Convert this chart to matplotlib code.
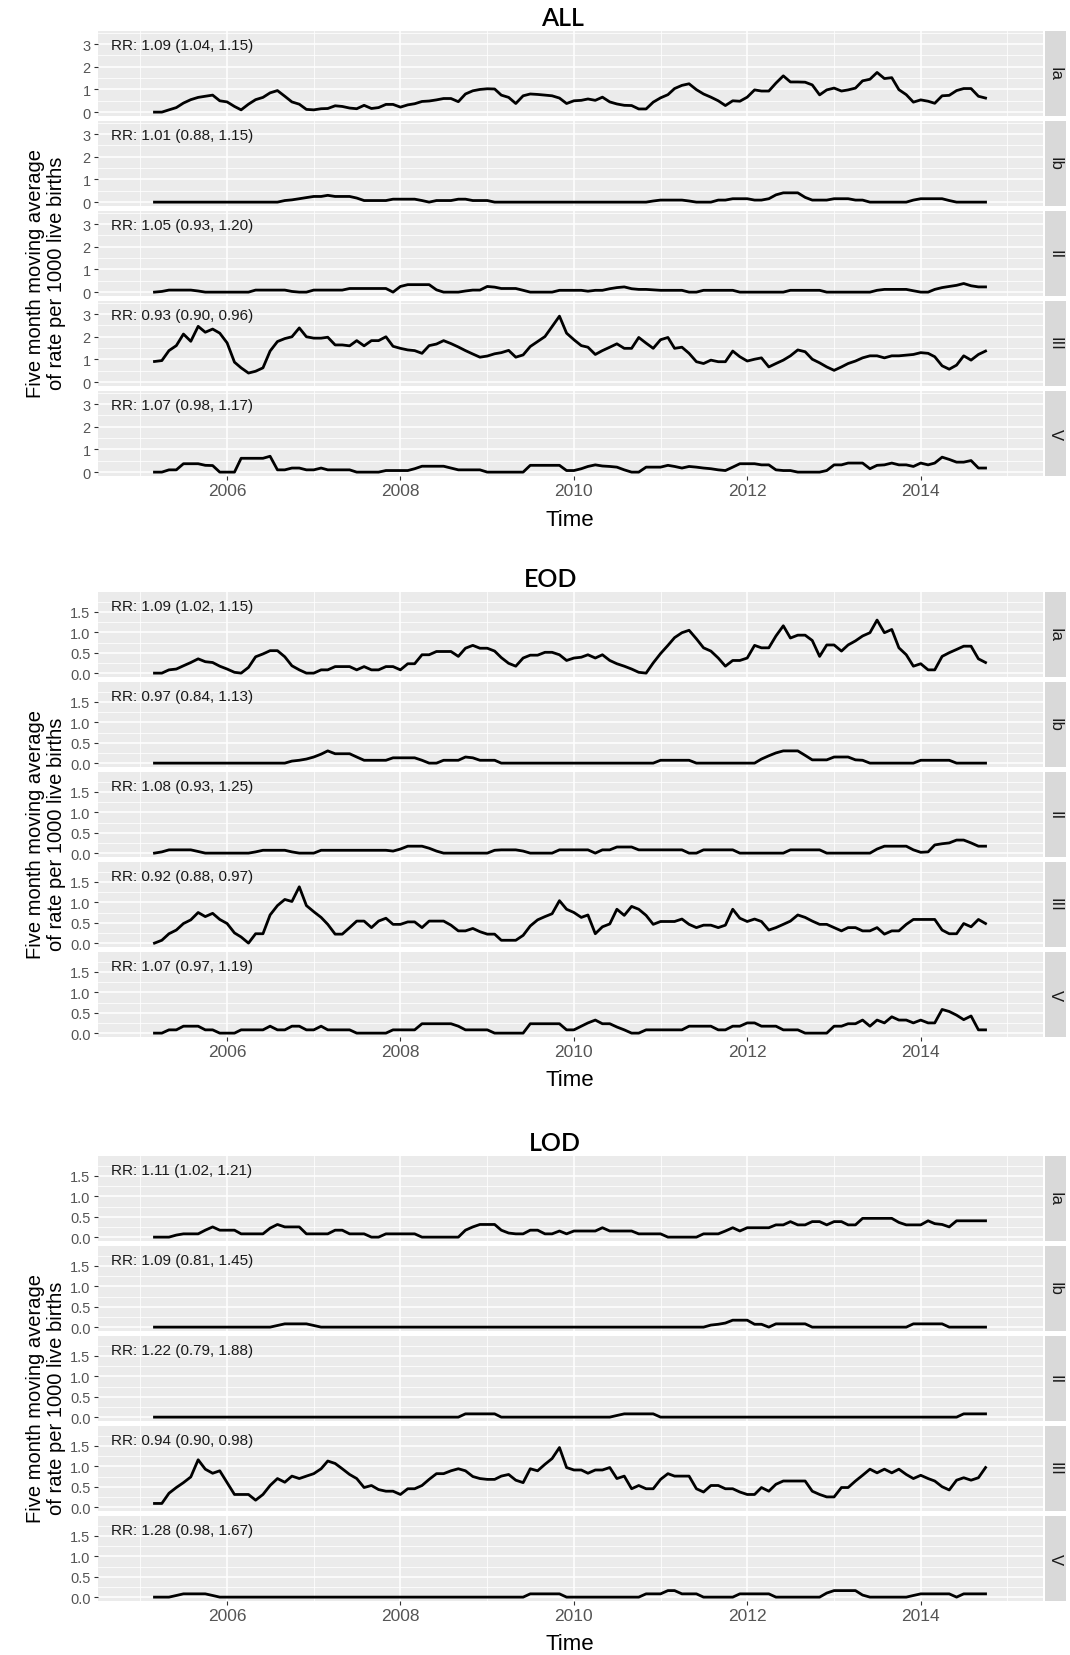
import pandas as pd
import matplotlib
matplotlib.use("Agg")
import matplotlib.pyplot as plt
import matplotlib.dates as mdates
import matplotlib.transforms as mtransforms

# monthly centred 5-month moving averages, Mar 2005 .. Oct 2014
months = pd.date_range("2005-03-01", "2014-10-01", freq="MS")

all_ia = [0.0, 0.0, 0.1, 0.2, 0.4, 0.55, 0.65, 0.7, 0.75, 0.5,
          0.45, 0.25, 0.1, 0.35, 0.55, 0.65, 0.85, 0.95, 0.7, 0.45, 0.35, 0.12,
          0.1, 0.15, 0.16, 0.28, 0.25, 0.18, 0.15, 0.3, 0.16, 0.2, 0.34, 0.34,
          0.22, 0.32, 0.37, 0.47, 0.49, 0.54, 0.6, 0.6, 0.46, 0.8, 0.94, 1.0,
          1.03, 1.02, 0.75, 0.65, 0.38, 0.72, 0.8, 0.78, 0.75, 0.72, 0.62, 0.38,
          0.5, 0.52, 0.58, 0.52, 0.66, 0.45, 0.36, 0.3, 0.29, 0.14, 0.14, 0.44,
          0.63, 0.77, 1.04, 1.18, 1.25, 0.99, 0.8, 0.66, 0.5, 0.29, 0.5, 0.48,
          0.66, 0.98, 0.93, 0.93, 1.28, 1.6, 1.33, 1.33, 1.32, 1.2, 0.76, 0.98,
          1.06, 0.93, 0.98, 1.06, 1.38, 1.45, 1.75, 1.48, 1.52, 0.99, 0.77, 0.44,
          0.54, 0.48, 0.39, 0.72, 0.74, 0.95, 1.04, 1.04, 0.7, 0.62]
all_ib = [0] * 10 + \
         [0] * 8 + [0.07, 0.1, 0.15, 0.2] + \
         [0.25, 0.25, 0.3, 0.25, 0.25, 0.25, 0.18, 0.07, 0.07, 0.07, 0.07, 0.13] + \
         [0.13, 0.13, 0.13, 0.07, 0.0, 0.07, 0.07, 0.07, 0.13, 0.13, 0.07, 0.07] + \
         [0.07] + [0] * 11 + \
         [0] * 11 + [0.05] + \
         [0.09, 0.09, 0.09, 0.09, 0.05, 0, 0, 0, 0.09, 0.09, 0.15, 0.15] + \
         [0.15, 0.09, 0.09, 0.15, 0.32, 0.41, 0.41, 0.41, 0.21, 0.09, 0.09, 0.09] + \
         [0.15, 0.15, 0.15, 0.09, 0.09, 0, 0, 0, 0, 0, 0, 0.09] + \
         [0.15, 0.15, 0.15, 0.15, 0.07, 0, 0, 0, 0, 0]
all_ii = [0, 0.03, 0.09, 0.09, 0.09, 0.09, 0.05, 0, 0, 0,
          0, 0, 0, 0, 0.09, 0.09, 0.09, 0.09, 0.09, 0.03, 0, 0,
          0.09, 0.09, 0.09, 0.09, 0.09, 0.16, 0.16, 0.16, 0.16, 0.16, 0.16, 0.0,
          0.25, 0.33, 0.33, 0.33, 0.33, 0.1, 0, 0, 0, 0.05, 0.09, 0.09,
          0.25, 0.22, 0.16, 0.16, 0.16, 0.08, 0, 0, 0, 0, 0.08, 0.08,
          0.08, 0.08, 0.04, 0.08, 0.08, 0.15, 0.2, 0.23, 0.15, 0.12, 0.12, 0.1,
          0.08, 0.08, 0.08, 0.08, 0, 0, 0.08, 0.08, 0.08, 0.08, 0.08, 0,
          0, 0, 0, 0, 0, 0, 0.08, 0.08, 0.08, 0.08, 0.08, 0,
          0, 0, 0, 0, 0, 0, 0.08, 0.12, 0.12, 0.12, 0.12, 0.06,
          0, 0, 0.12, 0.2, 0.25, 0.3, 0.38, 0.28, 0.23, 0.23]
all_iii = [0.91, 0.95, 1.39, 1.61, 2.12, 1.8, 2.46, 2.2, 2.34, 2.16,
           1.73, 0.88, 0.63, 0.4, 0.48, 0.63, 1.37, 1.79, 1.92, 2.0, 2.39, 2.0,
           1.94, 1.94, 1.98, 1.64, 1.64, 1.6, 1.83, 1.6, 1.83, 1.83, 2.0, 1.58,
           1.49, 1.42, 1.39, 1.27, 1.61, 1.68, 1.83, 1.7, 1.55, 1.39, 1.24, 1.1,
           1.15, 1.25, 1.3, 1.4, 1.1, 1.2, 1.57, 1.79, 2.01, 2.45, 2.91, 2.16,
           1.87, 1.61, 1.54, 1.22, 1.39, 1.54, 1.69, 1.49, 1.49, 1.97, 1.72, 1.49,
           1.87, 1.97, 1.49, 1.54, 1.27, 0.9, 0.82, 0.97, 0.9, 0.9, 1.37, 1.12,
           0.93, 1.01, 1.07, 0.67, 0.82, 0.97, 1.16, 1.42, 1.34, 1.01, 0.85, 0.67,
           0.52, 0.67, 0.82, 0.93, 1.07, 1.16, 1.16, 1.07, 1.16, 1.16, 1.19, 1.22,
           1.3, 1.27, 1.12, 0.72, 0.57, 0.75, 1.16, 0.97, 1.22, 1.37]
all_v = [0, 0, 0.1, 0.1, 0.37, 0.37, 0.37, 0.3, 0.29, 0,
         0, 0, 0.61, 0.61, 0.61, 0.61, 0.7, 0.1, 0.1, 0.18, 0.18, 0.1,
         0.1, 0.18, 0.1, 0.1, 0.1, 0.1, 0, 0, 0, 0, 0.07, 0.07,
         0.07, 0.07, 0.15, 0.26, 0.26, 0.26, 0.26, 0.18, 0.1, 0.1, 0.1, 0.1,
         0, 0, 0, 0, 0, 0, 0.3, 0.3, 0.3, 0.3, 0.3, 0.07,
         0.07, 0.15, 0.25, 0.32, 0.27, 0.25, 0.22, 0.1, 0, 0, 0.22, 0.22,
         0.22, 0.3, 0.25, 0.18, 0.25, 0.22, 0.18, 0.15, 0.1, 0.07, 0.22, 0.37,
         0.37, 0.37, 0.32, 0.32, 0.1, 0.07, 0.07, 0, 0, 0, 0, 0.07,
         0.32, 0.32, 0.4, 0.4, 0.4, 0.15, 0.3, 0.32, 0.4, 0.32, 0.32, 0.25,
         0.4, 0.32, 0.4, 0.66, 0.56, 0.44, 0.44, 0.51, 0.18, 0.18]

eod_ia = [0, 0, 0.08, 0.1, 0.18, 0.26, 0.35, 0.28, 0.26, 0.17,
          0.1, 0.02, 0.0, 0.14, 0.4, 0.47, 0.55, 0.55, 0.4, 0.18, 0.08, 0,
          0, 0.08, 0.08, 0.16, 0.16, 0.16, 0.08, 0.16, 0.08, 0.08, 0.16, 0.16,
          0.08, 0.23, 0.23, 0.45, 0.45, 0.53, 0.53, 0.53, 0.41, 0.61, 0.68, 0.61,
          0.61, 0.54, 0.38, 0.24, 0.17, 0.37, 0.44, 0.44, 0.51, 0.51, 0.45, 0.31,
          0.37, 0.39, 0.45, 0.37, 0.45, 0.31, 0.23, 0.17, 0.1, 0.02, 0.0, 0.25,
          0.48, 0.68, 0.87, 0.99, 1.05, 0.84, 0.62, 0.54, 0.37, 0.17, 0.31, 0.31,
          0.37, 0.68, 0.62, 0.62, 0.91, 1.16, 0.86, 0.93, 0.93, 0.8, 0.41, 0.69,
          0.69, 0.54, 0.69, 0.79, 0.91, 0.99, 1.3, 0.99, 1.07, 0.62, 0.45, 0.17,
          0.23, 0.08, 0.08, 0.41, 0.5, 0.58, 0.66, 0.66, 0.35, 0.26]
eod_ib = [0] * 10 + \
         [0] * 9 + [0.05, 0.07, 0.1] + \
         [0.15, 0.22, 0.3, 0.23, 0.23, 0.23, 0.15, 0.07, 0.07, 0.07, 0.07, 0.13] + \
         [0.13, 0.13, 0.13, 0.07, 0, 0, 0.07, 0.07, 0.07, 0.15, 0.13, 0.07] + \
         [0.07, 0.07] + [0] * 10 + \
         [0] * 12 + \
         [0.07, 0.07, 0.07, 0.07, 0.07] + [0] * 7 + \
         [0, 0, 0.1, 0.18, 0.25, 0.3, 0.3, 0.3, 0.19, 0.08, 0.08, 0.08] + \
         [0.15, 0.15, 0.15, 0.08, 0.07] + [0] * 7 + \
         [0.07, 0.07, 0.07, 0.07, 0.07, 0, 0, 0, 0, 0]
eod_ii = [0, 0.03, 0.08, 0.08, 0.08, 0.08, 0.04, 0, 0, 0,
          0, 0, 0, 0, 0.03, 0.07, 0.07, 0.07, 0.07, 0.03, 0, 0,
          0, 0.07, 0.07, 0.07, 0.07, 0.07, 0.07, 0.07, 0.07, 0.07, 0.07, 0.05,
          0.1, 0.17, 0.17, 0.17, 0.12, 0.05, 0, 0, 0, 0, 0, 0,
          0, 0.07, 0.08, 0.08, 0.08, 0.05, 0, 0, 0, 0, 0.08, 0.08,
          0.08, 0.08, 0.08, 0, 0.08, 0.08, 0.15, 0.15, 0.15, 0.08, 0.08, 0.08,
          0.08, 0.08, 0.08, 0.08, 0, 0, 0.08, 0.08, 0.08, 0.08, 0.08, 0,
          0, 0, 0, 0, 0, 0, 0.08, 0.08, 0.08, 0.08, 0.08, 0,
          0, 0, 0, 0, 0, 0, 0.1, 0.17, 0.17, 0.17, 0.17, 0.08,
          0.02, 0.03, 0.2, 0.23, 0.25, 0.32, 0.32, 0.25, 0.17, 0.17]
eod_iii = [0, 0.07, 0.23, 0.32, 0.48, 0.57, 0.75, 0.65, 0.73, 0.58,
           0.48, 0.25, 0.15, 0.0, 0.23, 0.23, 0.69, 0.92, 1.07, 1.02, 1.38, 0.92,
           0.77, 0.63, 0.46, 0.22, 0.22, 0.38, 0.54, 0.54, 0.38, 0.54, 0.61, 0.46,
           0.46, 0.52, 0.52, 0.38, 0.54, 0.54, 0.54, 0.44, 0.3, 0.3, 0.36, 0.28,
           0.22, 0.22, 0.07, 0.07, 0.07, 0.19, 0.42, 0.57, 0.65, 0.72, 1.04, 0.83,
           0.75, 0.63, 0.69, 0.23, 0.4, 0.47, 0.83, 0.68, 0.9, 0.83, 0.68, 0.46,
           0.53, 0.53, 0.53, 0.59, 0.46, 0.38, 0.44, 0.44, 0.38, 0.44, 0.83, 0.61,
           0.53, 0.59, 0.53, 0.32, 0.38, 0.46, 0.54, 0.69, 0.63, 0.54, 0.46, 0.46,
           0.38, 0.3, 0.38, 0.38, 0.3, 0.3, 0.38, 0.22, 0.3, 0.3, 0.46, 0.58,
           0.58, 0.58, 0.58, 0.32, 0.23, 0.23, 0.48, 0.4, 0.58, 0.48]
eod_v = [0, 0, 0.08, 0.08, 0.17, 0.17, 0.17, 0.08, 0.08, 0,
         0, 0, 0.08, 0.08, 0.08, 0.08, 0.17, 0.08, 0.08, 0.17, 0.17, 0.08,
         0.08, 0.17, 0.08, 0.08, 0.08, 0.08, 0, 0, 0, 0, 0, 0.08,
         0.08, 0.08, 0.08, 0.23, 0.23, 0.23, 0.23, 0.23, 0.17, 0.08, 0.08, 0.08,
         0.08, 0, 0, 0, 0, 0, 0.23, 0.23, 0.23, 0.23, 0.23, 0.08,
         0.08, 0.17, 0.25, 0.32, 0.23, 0.23, 0.15, 0.08, 0, 0, 0.08, 0.08,
         0.08, 0.08, 0.08, 0.08, 0.17, 0.17, 0.17, 0.17, 0.08, 0.08, 0.17, 0.17,
         0.25, 0.25, 0.17, 0.17, 0.17, 0.08, 0.08, 0.08, 0, 0, 0, 0,
         0.17, 0.17, 0.23, 0.23, 0.32, 0.17, 0.32, 0.25, 0.4, 0.32, 0.32, 0.25,
         0.32, 0.25, 0.25, 0.58, 0.53, 0.44, 0.33, 0.42, 0.08, 0.08]

lod_ia = [0, 0, 0, 0.05, 0.08, 0.08, 0.08, 0.17, 0.25, 0.17,
          0.17, 0.17, 0.08, 0.08, 0.08, 0.08, 0.22, 0.31, 0.25, 0.25, 0.25, 0.08,
          0.08, 0.08, 0.08, 0.17, 0.17, 0.08, 0.08, 0.08, 0, 0, 0.08, 0.08,
          0.08, 0.08, 0.08, 0, 0, 0, 0, 0, 0, 0.17, 0.25, 0.31,
          0.31, 0.31, 0.17, 0.1, 0.08, 0.08, 0.17, 0.17, 0.08, 0.08, 0.15, 0.08,
          0.15, 0.15, 0.15, 0.15, 0.23, 0.15, 0.15, 0.15, 0.15, 0.08, 0.08, 0.08,
          0.08, 0, 0, 0, 0, 0, 0.08, 0.08, 0.08, 0.15, 0.23, 0.15,
          0.23, 0.23, 0.23, 0.23, 0.3, 0.3, 0.38, 0.3, 0.3, 0.38, 0.38, 0.3,
          0.38, 0.38, 0.3, 0.3, 0.46, 0.46, 0.46, 0.46, 0.46, 0.36, 0.3, 0.3,
          0.3, 0.4, 0.33, 0.31, 0.25, 0.4, 0.4, 0.4, 0.4, 0.4]
lod_ib = [0] * 10 + \
         [0] * 7 + [0.04, 0.08, 0.08, 0.08, 0.08] + \
         [0.04] + [0] * 11 + \
         [0] * 12 + [0] * 12 + [0] * 12 + \
         [0] * 7 + [0.05, 0.07, 0.1, 0.17, 0.17] + \
         [0.17, 0.07, 0.07, 0, 0.08, 0.08, 0.08, 0.08, 0.08, 0, 0, 0] + \
         [0] * 11 + [0.08] + \
         [0.08, 0.08, 0.08, 0.08, 0, 0, 0, 0, 0, 0]
lod_ii = [0] * 10 + [0] * 12 + [0] * 12 + \
         [0] * 9 + [0.08, 0.08, 0.08] + \
         [0.08, 0.08] + [0] * 10 + \
         [0] * 6 + [0.04, 0.08, 0.08, 0.08, 0.08, 0.08] + \
         [0] * 12 + [0] * 12 + [0] * 12 + \
         [0] * 6 + [0.08, 0.08, 0.08, 0.08]
lod_iii = [0.09, 0.09, 0.34, 0.48, 0.6, 0.74, 1.16, 0.93, 0.83, 0.89,
           0.6, 0.31, 0.31, 0.31, 0.17, 0.31, 0.53, 0.7, 0.61, 0.76, 0.7, 0.76,
           0.82, 0.94, 1.13, 1.07, 0.94, 0.8, 0.7, 0.48, 0.53, 0.43, 0.39, 0.39,
           0.31, 0.45, 0.45, 0.53, 0.68, 0.82, 0.82, 0.89, 0.94, 0.89, 0.75, 0.7,
           0.68, 0.68, 0.76, 0.8, 0.66, 0.6, 0.94, 0.89, 1.05, 1.19, 1.46, 0.97,
           0.91, 0.91, 0.83, 0.91, 0.91, 0.97, 0.7, 0.76, 0.45, 0.53, 0.45, 0.45,
           0.68, 0.82, 0.76, 0.76, 0.76, 0.45, 0.37, 0.53, 0.53, 0.45, 0.45, 0.37,
           0.31, 0.31, 0.48, 0.39, 0.56, 0.64, 0.64, 0.64, 0.64, 0.39, 0.31, 0.25,
           0.25, 0.48, 0.48, 0.64, 0.78, 0.93, 0.84, 0.93, 0.84, 0.93, 0.8, 0.7,
           0.78, 0.7, 0.64, 0.5, 0.42, 0.66, 0.72, 0.66, 0.72, 0.97]
lod_v = [0, 0, 0, 0.04, 0.08, 0.08, 0.08, 0.08, 0.04, 0] + \
        [0] * 12 + [0] * 12 + [0] * 12 + \
        [0] * 6 + [0.08, 0.08, 0.08, 0.08, 0.08, 0] + \
        [0] * 10 + [0.08, 0.08] + \
        [0.08, 0.16, 0.16, 0.08, 0.08, 0.08, 0, 0, 0, 0, 0, 0.08] + \
        [0.08, 0.08, 0.08, 0.08, 0, 0, 0, 0, 0, 0, 0, 0.1] + \
        [0.16, 0.16, 0.16, 0.16, 0.05, 0, 0, 0, 0, 0, 0, 0.04] + \
        [0.08, 0.08, 0.08, 0.08, 0.08, 0, 0.08, 0.08, 0.08, 0.08]

groups = ["Ia", "Ib", "II", "III", "V"]
rr_all = ["RR: 1.09 (1.04, 1.15)", "RR: 1.01 (0.88, 1.15)", "RR: 1.05 (0.93, 1.20)",
          "RR: 0.93 (0.90, 0.96)", "RR: 1.07 (0.98, 1.17)"]
rr_eod = ["RR: 1.09 (1.02, 1.15)", "RR: 0.97 (0.84, 1.13)", "RR: 1.08 (0.93, 1.25)",
          "RR: 0.92 (0.88, 0.97)", "RR: 1.07 (0.97, 1.19)"]
rr_lod = ["RR: 1.11 (1.02, 1.21)", "RR: 1.09 (0.81, 1.45)", "RR: 1.22 (0.79, 1.88)",
          "RR: 0.94 (0.90, 0.98)", "RR: 1.28 (0.98, 1.67)"]

# layout (pixels)
W, H = 1070, 1656
PL, PW = 97.5, 945.5
PH, PITCH = 85.5, 90
SL, SW = 1044.5, 21.5

sections = [
    ("ALL", [all_ia, all_ib, all_ii, all_iii, all_v], rr_all, 31.5, 562,
     (-0.171, 3.6), [0, 1, 2, 3], ["0", "1", "2", "3"], [0.5, 1.5, 2.5, 3.5], 2.97),
    ("EOD", [eod_ia, eod_ib, eod_ii, eod_iii, eod_v], rr_eod, 592.5, 551,
     (-0.095, 2.0), [0, 0.5, 1, 1.5], ["0.0", "0.5", "1.0", "1.5"], [0.25, 0.75, 1.25, 1.75], 1.65),
    ("LOD", [lod_ia, lod_ib, lod_ii, lod_iii, lod_v], rr_lod, 1156.5, 555,
     (-0.095, 2.0), [0, 0.5, 1, 1.5], ["0.0", "0.5", "1.0", "1.5"], [0.25, 0.75, 1.25, 1.75], 1.65),
]

span0 = pd.Timestamp("2005-01-01")
span1 = pd.Timestamp("2014-12-01")
pad = (span1 - span0) * 0.05
xlim = (span0 - pad, span1 + pad)

plt.rcParams["font.family"] = ["Liberation Sans", "DejaVu Sans"]
fig = plt.figure(figsize=(W / 100, H / 100), dpi=100)


def px_axes(left, top, width, height):
    return fig.add_axes([left / W, 1 - (top + height) / H, width / W, height / H])


for title, series, rrs, top, tx, ylim, yt, ytl, ymin, rr_y in sections:
    fig.text(tx / W, 1 - (top - 13) / H, title, ha="center", va="center",
             fontsize=18, fontweight="semibold", family=["Lato", "DejaVu Sans"],
             color="black")
    for k, vals in enumerate(series):
        ptop = top + k * PITCH
        ax = px_axes(PL, ptop, PW, PH)
        ax.set_facecolor("#EBEBEB")
        for sp in ax.spines.values():
            sp.set_visible(False)
        ax.plot(months, vals, color="black", lw=2.0, solid_joinstyle="round")
        ax.set_xlim(xlim)
        ax.set_ylim(ylim)
        ax.set_yticks(yt)
        ax.set_yticklabels(ytl)
        ax.set_yticks(ymin, minor=True)
        ax.xaxis.set_major_locator(mdates.YearLocator(2))
        ax.xaxis.set_minor_locator(mdates.YearLocator(1))
        ax.xaxis.set_major_formatter(mdates.DateFormatter("%Y"))
        ax.grid(which="major", color="white", lw=1.1)
        ax.grid(which="minor", color="white", lw=0.55)
        ax.set_axisbelow(True)
        ax.tick_params(which="major", axis="y", length=3, width=0.8, color="#333333",
                       labelsize=10.5, labelcolor="#555555", pad=2)
        ax.tick_params(which="minor", length=0)
        if k == 4:
            ax.tick_params(which="major", axis="x", length=3, width=0.8, color="#333333",
                           labelsize=12.5, labelcolor="#555555", pad=2)
        else:
            ax.tick_params(which="major", axis="x", length=0, labelbottom=False)
        trans = mtransforms.blended_transform_factory(ax.transAxes, ax.transData)
        ax.text(13.5 / PW, rr_y, rrs[k], transform=trans, ha="left", va="center",
                fontsize=11, color="#1A1A1A")

        sax = px_axes(SL, ptop, SW, PH)
        sax.set_facecolor("#D9D9D9")
        sax.set_xticks([])
        sax.set_yticks([])
        for sp in sax.spines.values():
            sp.set_visible(False)
        sax.text(0.5, 0.5, groups[k], rotation=270, ha="center", va="center",
                 fontsize=12, color="#1A1A1A", transform=sax.transAxes)

    bottom = top + 4 * PITCH + PH
    fig.text((PL + PW / 2) / W, 1 - (bottom + 43) / H, "Time", ha="center",
             va="center", fontsize=16, color="black")
    fig.text(46 / W, 1 - ((top + bottom) / 2 + 19) / H,
             "Five month moving average\nof rate per 1000 live births",
             rotation=90, ha="center", va="center", multialignment="center",
             fontsize=14.5, color="black", linespacing=1.1)

fig.savefig("out.png", dpi=100, facecolor="white")
